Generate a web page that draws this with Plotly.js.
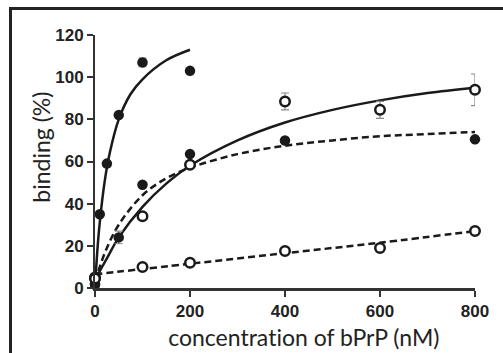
<!DOCTYPE html>
<html>
<head>
<meta charset="utf-8">
<script src="https://cdn.plot.ly/plotly-3.0.1.min.js"></script>
<style>
html,body{margin:0;padding:0;background:#fff;overflow:hidden;}
#wrap{position:relative;width:503px;height:353px;}
#chart{position:absolute;left:0;top:0;width:503px;height:353px;}
#chart text{font-variant-ligatures:none;font-feature-settings:"liga" 0,"clig" 0;}
#frame{position:absolute;left:9px;top:7px;width:600px;height:400px;border-left:3px solid #222;border-top:3px solid #222;pointer-events:none;}
</style>
</head>
<body>
<div id="wrap"><div id="chart"></div><div id="frame"></div></div>
<script>
// Filled circles, steep solid fit
const filledAX = [0, 10, 25, 50, 100, 200];
const filledAY = [2, 35, 59, 82, 107, 103];
const filledAErr = [0, 0, 0, 0, 2, 0];
// Filled circles, dashed saturating fit
const filledBX = [0, 50, 100, 200, 400, 800];
const filledBY = [1.5, 24, 49, 63.5, 70, 70.5];
const filledBErr = [0, 3, 0, 0, 0, 0];
// Open circles, solid fit
const openCX = [0, 100, 200, 400, 600, 800];
const openCY = [5, 34, 58.5, 88.5, 84.5, 94];
const openCErr = [0, 0, 0, 4, 4, 7.5];
// Open circles, dashed near-linear fit
const openDX = [0, 100, 200, 400, 600, 800];
const openDY = [4.5, 10, 12, 17.5, 19, 27];

// Fitted curves
const curveAX = [0, 5, 10, 20, 30, 50, 75, 100, 150, 200];
const curveAY = [0, 18, 31, 50, 63, 80, 92, 99, 108, 113];
const curveBX = [0, 10, 25, 50, 100, 150, 200, 300, 400, 500, 600, 700, 800];
const curveBY = [3, 10, 19, 30, 44, 52, 57, 63.5, 67.5, 70, 72, 73, 74];
const curveCX = [0, 10, 25, 50, 100, 150, 200, 300, 400, 500, 600, 700, 800];
const curveCY = [3, 8, 14, 24, 38.5, 49.5, 58, 70, 78.5, 84.5, 89, 92.5, 95];
const curveDX = [0, 200, 400, 600, 800];
const curveDY = [6.5, 11.5, 16.5, 21.5, 27];

const xTicks = [0, 200, 400, 600, 800];
const yTicks = [0, 20, 40, 60, 80, 100, 120];
const xTitle = 'concentration of bPrP (nM)';
const yTitle = 'binding (%)';

const lineW = 2.5;
const ink = '#1a1a1a';
const dashPat = '7px,4px';
const titleFont = {family: 'Lato, sans-serif', size: 23, color: '#222'};

function curve(x, y, dash) {
  return {x: x, y: y, mode: 'lines', type: 'scatter', hoverinfo: 'skip',
          line: {color: ink, width: lineW, dash: dash, shape: 'spline'}, cliponaxis: false};
}
function pts(x, y, err, filled) {
  const t = {x: x, y: y, mode: 'markers', type: 'scatter', cliponaxis: false,
    marker: filled ? {size: 10.5, color: ink, line: {width: 0}}
                   : {size: 9.5, color: '#fff', line: {width: 2.5, color: ink}}};
  if (err) t.error_y = {type: 'data', array: err, visible: true, color: '#8a8a8a', thickness: 1.2, width: 4};
  return t;
}

const data = [
  curve(curveAX, curveAY, 'solid'),
  curve(curveCX, curveCY, 'solid'),
  curve(curveBX, curveBY, dashPat),
  curve(curveDX, curveDY, dashPat),
  pts(filledAX, filledAY, filledAErr, true),
  pts(filledBX, filledBY, filledBErr, true),
  pts(openCX, openCY, openCErr, false),
  pts(openDX, openDY, null, false)
];

const layout = {
  width: 503, height: 353,
  margin: {l: 95, r: 28, t: 35, b: 65},
  paper_bgcolor: '#fff', plot_bgcolor: '#fff',
  showlegend: false,
  xaxis: {
    range: [0, 800], tickvals: xTicks, ticktext: xTicks.map(String),
    showgrid: false, zeroline: false, showline: true, linecolor: '#333', linewidth: 2.5,
    ticks: 'outside', ticklen: 6, tickwidth: 2, tickcolor: '#333',
    tickfont: {family: 'Liberation Sans, Arial, sans-serif', size: 17, color: '#222', weight: 'bold'}
  },
  yaxis: {
    range: [0, 120], tickvals: yTicks, ticktext: yTicks.map(String),
    showgrid: false, zeroline: false, showline: true, linecolor: '#333', linewidth: 2,
    ticks: 'outside', ticklen: 6, tickwidth: 2, tickcolor: '#333',
    tickfont: {family: 'Liberation Sans, Arial, sans-serif', size: 17, color: '#222', weight: 'bold'}
  },
  annotations: [
    {text: xTitle, xref: 'paper', yref: 'paper', x: 0.55, y: -0.194,
     xanchor: 'center', yanchor: 'middle', showarrow: false, font: titleFont},
    {text: yTitle, xref: 'paper', yref: 'paper', x: -0.142, y: 0.555, textangle: -90,
     xanchor: 'center', yanchor: 'middle', showarrow: false, font: titleFont}
  ]
};

Plotly.newPlot('chart', data, layout, {staticPlot: true, displayModeBar: false});
</script>
</body>
</html>
